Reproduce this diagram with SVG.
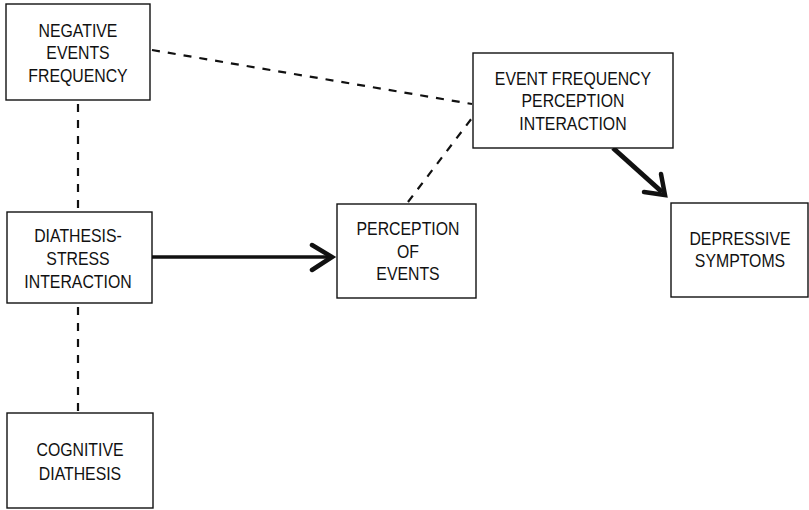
<svg xmlns="http://www.w3.org/2000/svg" width="809" height="510" viewBox="0 0 809 510">
<defs>
<style>
.box{fill:#fff;stroke:#111;stroke-width:1.4}
.t{font-family:"Liberation Sans",Arial,sans-serif;font-size:18px;fill:#111;text-anchor:middle;transform-box:fill-box;transform-origin:center;transform:scaleX(0.88)}
.dash{fill:none;stroke:#111;stroke-width:2.2;stroke-dasharray:8 8}
.solid{fill:none;stroke:#111;stroke-width:3.5}
.thick{fill:none;stroke:#111;stroke-width:5}
.head{fill:none;stroke:#111;stroke-width:4.5;stroke-linecap:round;stroke-linejoin:miter}
</style>
</defs>
<rect width="809" height="510" fill="#fff"/>
<g id="connectors">
<line class="dash" x1="152" y1="50" x2="472" y2="104"/>
<line class="dash" x1="408" y1="202" x2="472" y2="118"/>
<line class="dash" x1="78" y1="104" x2="78" y2="211"/>
<line class="dash" x1="78" y1="307" x2="78" y2="413"/>
<line class="solid" x1="152" y1="257" x2="331" y2="257"/>
<polyline class="head" points="312,245 332,257 312,270"/>
<line class="thick" x1="613" y1="148" x2="662" y2="192"/>
<polyline class="head" points="661,174 665,195 644,192"/>
</g>
<g id="n1">
<rect class="box" x="6" y="4" width="144" height="96"/>
<text class="t" x="78" y="37">NEGATIVE</text>
<text class="t" x="78" y="59">EVENTS</text>
<text class="t" x="78" y="82">FREQUENCY</text>
</g>
<g id="n2">
<rect class="box" x="7" y="212" width="145" height="91"/>
<text class="t" x="78" y="242">DIATHESIS-</text>
<text class="t" x="78" y="265">STRESS</text>
<text class="t" x="78" y="288">INTERACTION</text>
</g>
<g id="n3">
<rect class="box" x="7" y="413" width="146" height="95"/>
<text class="t" x="80" y="456">COGNITIVE</text>
<text class="t" x="80" y="480">DIATHESIS</text>
</g>
<g id="n4">
<rect class="box" x="337" y="204" width="139" height="94"/>
<text class="t" x="408" y="235">PERCEPTION</text>
<text class="t" x="408" y="258">OF</text>
<text class="t" x="408" y="280">EVENTS</text>
</g>
<g id="n5">
<rect class="box" x="473" y="53" width="200" height="95"/>
<text class="t" x="573" y="85">EVENT FREQUENCY</text>
<text class="t" x="573" y="107">PERCEPTION</text>
<text class="t" x="573" y="130">INTERACTION</text>
</g>
<g id="n6">
<rect class="box" x="671" y="203" width="137" height="94"/>
<text class="t" x="740" y="245">DEPRESSIVE</text>
<text class="t" x="740" y="267">SYMPTOMS</text>
</g>
</svg>
